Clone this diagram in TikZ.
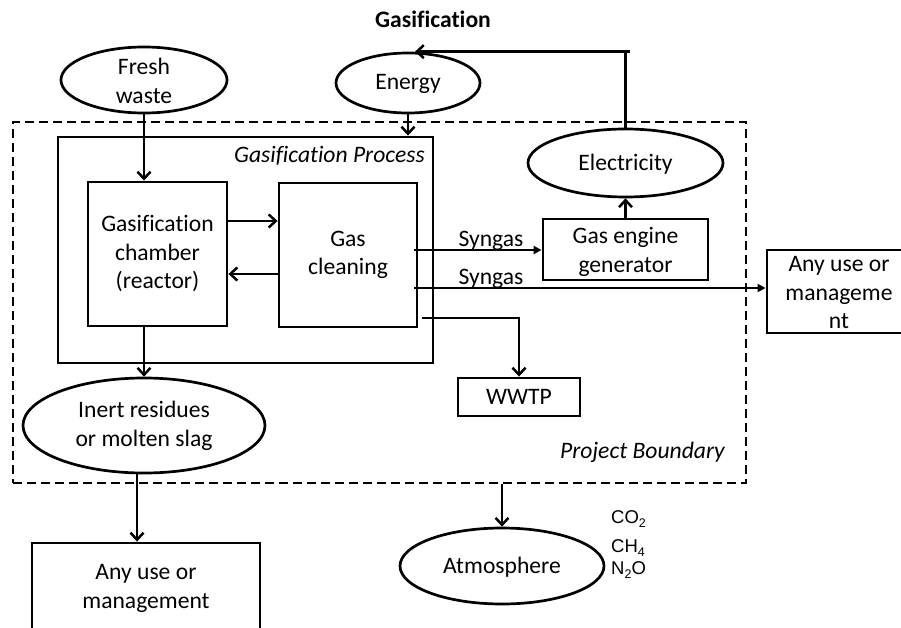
\documentclass[tikz,border=0pt]{standalone}
\usepackage{fontspec}
\setmainfont{Carlito}[Ligatures=NoCommon]
\newfontfamily\chemfont{Liberation Sans}
\usetikzlibrary{shapes.geometric,arrows.meta,calc}

\newcommand{\chemsub}[1]{\raisebox{-4.5pt}{\fontsize{12.5pt}{13pt}\selectfont #1}}

\tikzset{
  box/.style={draw, line width=2.9pt, rectangle, inner sep=0pt},
  oval/.style={draw, line width=2.7pt, ellipse, inner sep=0pt},
  txt/.style={align=center, inner sep=0pt},
  arr/.style={line width=2.5pt, -{Straight Barb[length=7pt,width=13pt,line width=2.5pt]}},
  gasarr/.style={line width=2.5pt, -{Triangle[length=8pt,width=8pt]}},
  boundary/.style={draw, line width=2.7pt, dash pattern=on 9pt off 5pt, rectangle, inner sep=0pt},
  chem/.style={font=\chemfont\fontsize{18.5pt}{22pt}\selectfont, inner sep=0pt, anchor=base west},
}

\begin{document}
\begin{tikzpicture}[x=1pt, y=-1pt, font=\fontsize{23.6pt}{28.5pt}\selectfont]
\useasboundingbox (0,0) rectangle (901,628);

% title
\node[txt, font=\bfseries\fontsize{23.6pt}{28.5pt}\selectfont] (title) at (433,19) {Gasification};

% project boundary and process frame
\node[boundary, minimum width=733pt, minimum height=361pt] (bound) at (379.5,302.5) {};
\node[txt, anchor=east, font=\itshape\fontsize{23.6pt}{28.5pt}\selectfont] (pblabel) at (725,452) {Project Boundary};
\node[box, minimum width=375pt, minimum height=226pt] (proc) at (245.5,250) {};
\node[txt, anchor=east, font=\itshape\fontsize{23.6pt}{28.5pt}\selectfont] (proclabel) at (425,156) {Gasification Process};

% process units
\node[box, minimum width=139pt, minimum height=144pt] (chamber) at (157.5,254) {};
\node[txt] (chambertxt) at (chamber) {Gasification\\chamber\\(reactor)};
\node[box, minimum width=138pt, minimum height=144pt] (clean) at (348,255) {};
\node[txt] (cleantxt) at (clean) {Gas\\cleaning};
\node[box, minimum width=165pt, minimum height=61pt] (gen) at (625.5,249.5) {};
\node[txt] (gentxt) at (625.5,252) {Gas engine\\generator};
\node[box, minimum width=122pt, minimum height=38pt] (wwtp) at (519,397) {};
\node[txt] (wwtptxt) at (wwtp) {WWTP};

% outside sinks
\node[box, minimum width=144pt, minimum height=83pt] (anyR) at (839,291.5) {};
\node[txt] (anyRtxt) at (839,293) {Any use or\\manageme\\nt};
\node[box, minimum width=228pt, minimum height=120pt] (anyB) at (146,603) {};
\node[txt] (anyBtxt) at (146,588.5) {Any use or\\management};

% inputs and products
\node[oval, minimum width=166pt, minimum height=66pt] (fresh) at (144,80) {};
\node[txt] (freshtxt) at (144,81) {Fresh\\waste};
\node[oval, minimum width=144pt, minimum height=60pt] (energy) at (408,83) {};
\node[txt] (energytxt) at (408,84) {Energy};
\node[oval, minimum width=195pt, minimum height=68pt] (elec) at (625.5,163) {};
\node[txt] (electxt) at (625.5,164) {Electricity};
\node[oval, minimum width=242pt, minimum height=95pt] (inert) at (144,425.5) {};
\node[txt] (inerttxt) at (144,426) {Inert residues\\or molten slag};
\node[oval, minimum width=204pt, minimum height=76pt] (atm) at (502,566) {};
\node[txt] (atmtxt) at (502,567) {Atmosphere};

% emitted gases
\node[chem] (co2) at (611,523) {CO\chemsub{2}};
\node[chem] (ch4) at (611,552) {CH\chemsub{4}};
\node[chem] (n2o) at (611,574) {N\chemsub{2}O};

% flows
\draw[arr] (fresh.south) -- (fresh.south |- chamber.north);
\draw[arr] (energy.south) -- (energy.south |- proc.north);
\draw[arr] ([yshift=33pt]chamber.east) -- ([yshift=33pt]chamber.east -| clean.west);
\draw[arr] ([yshift=-19pt]clean.west) -- ([yshift=-19pt]clean.west -| chamber.east);
\draw[gasarr] ([xshift=-4pt,yshift=5pt]clean.east) -- ([yshift=5pt]clean.east -| gen.west);
\node[anchor=base, inner sep=0pt] (sg1) at (491,247) {Syngas};
\draw[gasarr] ([xshift=-4pt,yshift=-33pt]clean.east) -- ([yshift=-33pt]clean.east -| anyR.west);
\node[anchor=base, inner sep=0pt] (sg2) at (491,284) {Syngas};
\draw[arr] ([xshift=4pt,yshift=-63pt]clean.east) -| (wwtp.north);
\draw[arr] (gen.north) -- (elec.south);
\draw[arr] (elec.north) |- ([xshift=7pt]energy.north);
\draw[line width=2.5pt] (elec.north |- energy.north) -- ++(4,0);
\draw[arr] (inert.north |- chamber.south) -- (inert.north);
\draw[arr] ([xshift=-7pt]inert.south) -- ([xshift=-7pt]inert.south |- anyB.north);
\draw[arr] (atm.north |- bound.south) -- (atm.north);
\end{tikzpicture}
\end{document}
